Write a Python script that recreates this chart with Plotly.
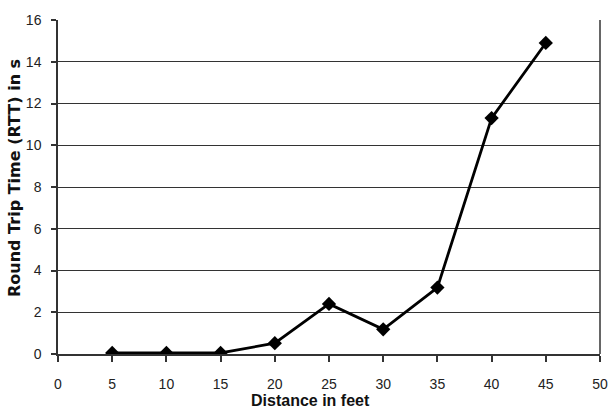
import plotly.graph_objects as go

distance_ft = [5, 10, 15, 20, 25, 30, 35, 40, 45]
rtt_s = [0.05, 0.05, 0.05, 0.52, 2.4, 1.18, 3.18, 11.3, 14.9]
x_ticks = [0, 5, 10, 15, 20, 25, 30, 35, 40, 45, 50]
y_ticks = [0, 2, 4, 6, 8, 10, 12, 14, 16]

fig = go.Figure()
fig.add_trace(go.Scatter(
    x=distance_ft, y=rtt_s, mode="lines+markers",
    line=dict(color="black", width=2.8),
    marker=dict(symbol="diamond", size=11, color="black"),
    showlegend=False,
))

tick_font = dict(family="Liberation Sans Narrow, Liberation Sans, Arial", size=14, color="#222")
fig.update_layout(
    width=609, height=411,
    margin=dict(l=58, r=9, t=20, b=57),
    paper_bgcolor="white", plot_bgcolor="white",
    xaxis=dict(
        range=[0, 50], tickvals=x_ticks, ticktext=[str(v) for v in x_ticks],
        showgrid=False, zeroline=False, automargin=False,
        showline=True, linecolor="#333", linewidth=1.5, mirror=False,
        ticks="outside", ticklen=6, tickcolor="#333", tickwidth=1.5,
        tickfont=tick_font, ticklabelstandoff=10,
    ),
    yaxis=dict(
        range=[0, 16], tickvals=y_ticks, ticktext=[str(v) for v in y_ticks],
        showgrid=True, gridcolor="#333", gridwidth=1.3, zeroline=False,
        automargin=False,
        showline=True, linecolor="#333", linewidth=1.5,
        ticks="outside", ticklen=5, tickcolor="#333", tickwidth=1.5,
        tickfont=tick_font, ticklabelstandoff=7,
    ),
    annotations=[
        dict(text="<b>Distance in feet</b>", xref="paper", yref="paper",
             x=(310 - 58) / (600 - 58), y=(354 - 400) / (354 - 20),
             xanchor="center", yanchor="middle", showarrow=False,
             font=dict(family="Liberation Sans Narrow, Liberation Sans, Arial", size=16, color="#111")),
        dict(text="<b>Round Trip Time (RTT) in s</b>", xref="paper", yref="paper",
             x=(15 - 58) / (600 - 58), y=(354 - 178) / (354 - 20),
             xanchor="center", yanchor="middle", showarrow=False, textangle=-90,
             font=dict(family="DejaVu Sans, Verdana, Arial", size=16, color="#111")),
    ],
)
# right border line
fig.add_shape(type="line", xref="paper", yref="paper", x0=1, x1=1, y0=0, y1=1,
              line=dict(color="#333", width=1.5))

fig.write_html("out.html", config={"displayModeBar": False},
               post_script="document.body.style.margin='0';document.body.style.overflow='hidden';")
